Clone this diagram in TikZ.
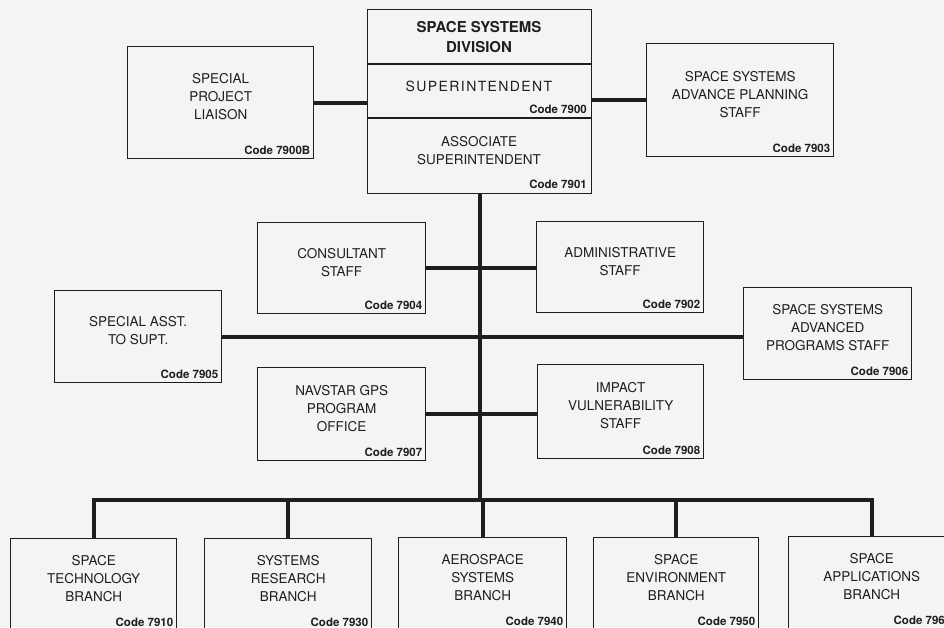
\documentclass[tikz,border=0pt]{standalone}
\usepackage{fontspec}
\setmainfont{TeX Gyre Heros}
\definecolor{ink}{HTML}{1E1E1E}
\definecolor{paper}{HTML}{F4F4F2}
\tikzset{
  box/.style={draw=ink, line width=1.4pt, rectangle, inner sep=0pt},
  boxtext/.style={align=center, text=ink, inner sep=0pt, font=\fontsize{13.5}{18}\selectfont},
  codetext/.style={text=ink, inner sep=0pt, font=\fontsize{11.5}{13}\selectfont\bfseries},
  conn/.style={draw=ink, line width=3.6pt},
}
\newcommand\orgbox[7]{%
  \node[box, minimum width=#4pt, minimum height=#5pt, anchor=north west] (#1) at (#2,#3) {};
  \node[boxtext, yshift=6pt] (#1-t) at (#1.center) {#6};
  \node[codetext, anchor=base east, xshift=-4pt, yshift=5pt] (#1-c) at (#1.south east) {Code #7};
}
\begin{document}
\begin{tikzpicture}[x=1pt, y=-1pt]
\fill[paper] (0,0) rectangle (944,627);
\clip (0,0) rectangle (944,627);
\useasboundingbox (0,0) rectangle (944,627);

% top box
\node[box, minimum width=224pt, minimum height=184pt, anchor=north west] (top) at (367,9) {};
\coordinate (d1) at (367,64);
\coordinate (d2) at (367,118);
\draw[ink, line width=1.4pt] (d1) -- (d1 -| top.east);
\draw[ink, line width=1.4pt] (d2) -- (d2 -| top.east);
\node[boxtext, font=\fontsize{15}{20}\selectfont\bfseries] (title) at (479,37) {SPACE SYSTEMS\\DIVISION};
\node[boxtext, font=\fontsize{14}{18}\addfontfeature{LetterSpace=10}\selectfont] (supt) at (479,86) {SUPERINTENDENT};
\node[codetext, anchor=base east] (supt-c) at (587,113) {Code 7900};
\node[boxtext] (assoc) at (479,151) {ASSOCIATE\\SUPERINTENDENT};
\node[codetext, anchor=base east] (assoc-c) at (587,188) {Code 7901};

\orgbox{spl}{127}{46}{186}{112}{SPECIAL\\PROJECT\\LIAISON}{7900B}
\orgbox{asp}{646}{43}{187}{113}{SPACE SYSTEMS\\ADVANCE PLANNING\\STAFF}{7903}
\orgbox{cons}{257}{222}{168}{91}{CONSULTANT\\STAFF}{7904}
\orgbox{adm}{536}{221}{167}{91}{ADMINISTRATIVE\\STAFF}{7902}
\orgbox{sat}{54}{290}{167}{92}{SPECIAL ASST.\\TO SUPT.}{7905}
\orgbox{adv}{743}{287}{168}{92}{SPACE SYSTEMS\\ADVANCED\\PROGRAMS STAFF}{7906}
\orgbox{nav}{257}{367}{168}{93}{NAVSTAR GPS\\PROGRAM\\OFFICE}{7907}
\orgbox{imp}{537}{364}{166}{94}{IMPACT\\VULNERABILITY\\STAFF}{7908}
\orgbox{b1}{10}{538}{166}{92}{SPACE\\TECHNOLOGY\\BRANCH}{7910}
\orgbox{b2}{204}{538}{167}{92}{SYSTEMS\\RESEARCH\\BRANCH}{7930}
\orgbox{b3}{398}{537}{168}{92}{AEROSPACE\\SYSTEMS\\BRANCH}{7940}
\orgbox{b4}{593}{537}{165}{92}{SPACE\\ENVIRONMENT\\BRANCH}{7950}
\orgbox{b5}{788}{536}{166}{92}{SPACE\\APPLICATIONS\\BRANCH}{7960}

% connectors
\coordinate (bus) at (480,500);
\draw[conn] (spl.east) -- (spl.east -| top.west);
\draw[conn] (top.east |- asp.west) -- (asp.west);
\draw[conn] (top.south) -- (top.south |- bus);
\draw[conn] (cons.east) -- (cons.east -| adm.west);
\draw[conn] (sat.east) -- (sat.east -| adv.west);
\draw[conn] (nav.east) -- (nav.east -| imp.west);
\draw[conn, line join=miter] (b1.north) -- (b1.north |- bus) -- (b5.north |- bus) -- (b5.north);
\draw[conn] (b2.north) -- (b2.north |- bus);
\draw[conn] (b3.north) -- (b3.north |- bus);
\draw[conn] (b4.north) -- (b4.north |- bus);
\end{tikzpicture}
\end{document}
